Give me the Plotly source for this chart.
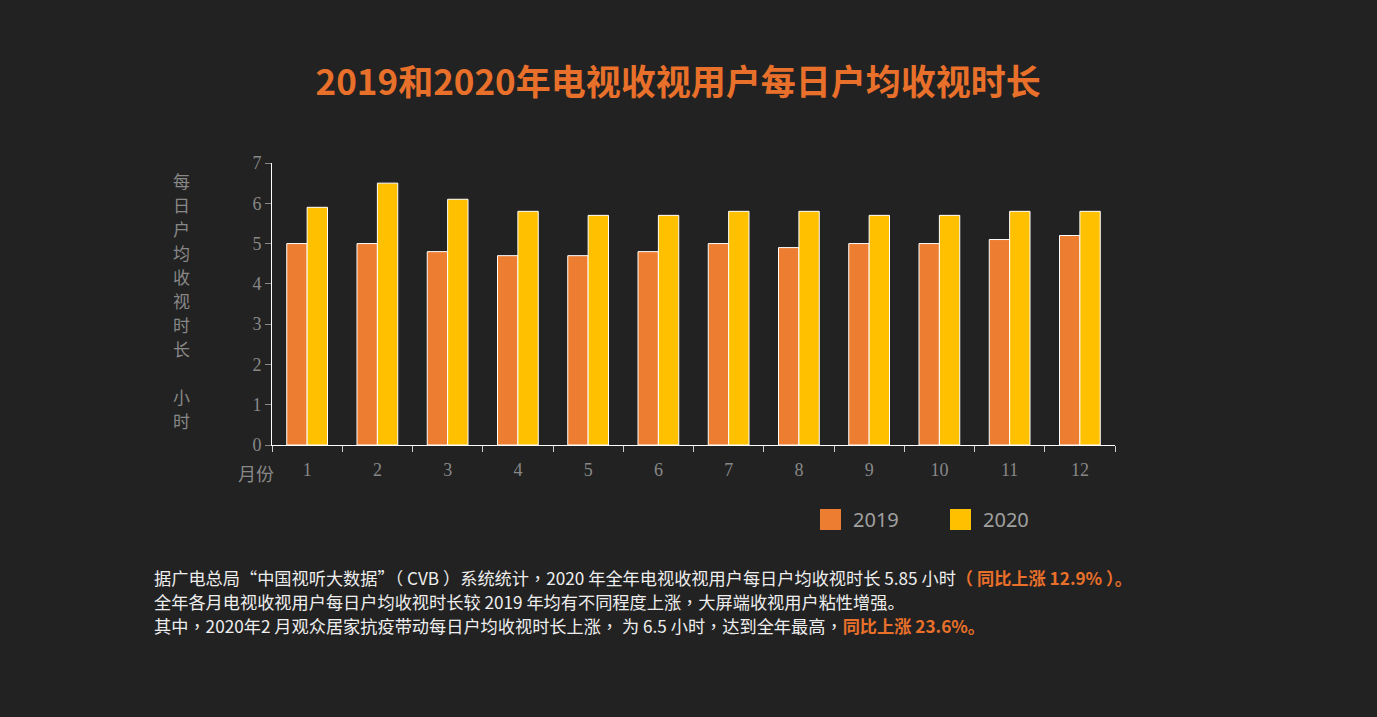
import plotly.graph_objects as go

months = ["1", "2", "3", "4", "5", "6", "7", "8", "9", "10", "11", "12"]
v2019 = [5.0, 5.0, 4.8, 4.7, 4.7, 4.8, 5.0, 4.9, 5.0, 5.0, 5.1, 5.2]
v2020 = [5.9, 6.5, 6.1, 5.8, 5.7, 5.7, 5.8, 5.8, 5.7, 5.7, 5.8, 5.8]
series_names = ["2019", "2020"]
y_ticks = [0, 1, 2, 3, 4, 5, 6, 7]

title_text = "2019和2020年电视收视用户每日户均收视时长"
y_title_chars = ["每", "日", "户", "均", "收", "视", "时", "长", "", "小", "时"]
x_title = "月份"

ORANGE = "#ED7D31"
GOLD = "#FFC000"
BG = "#222222"
ACC = "#E8702A"
CJK = "Noto Sans CJK SC"
SERIF = "Liberation Serif"
colors = [ORANGE, GOLD]

# plot area in pixels (used to convert layout positions to paper fractions)
L, R, T, B = 272, 1115, 163, 445
W, H = R - L, B - T
def px(x):
    return (x - L) / W
def py(y):
    return (B - y) / H

fig = go.Figure()
for name, vals, col in zip(series_names, [v2019, v2020], colors):
    fig.add_bar(x=months, y=vals, name=name, showlegend=False,
                marker=dict(color=col, line=dict(color="#ffffff", width=1)))

fig.update_layout(
    width=1377, height=717,
    paper_bgcolor=BG, plot_bgcolor=BG,
    margin=dict(l=L, r=1377 - R, t=T, b=717 - B, autoexpand=False),
    barmode="group", bargap=0.42, bargroupgap=0,
    title=dict(text="<b>" + title_text + "</b>", x=0.4925, xanchor="center", y=0.884, yanchor="middle",
               font=dict(family=CJK, size=35, color=ACC)),
    font=dict(family=SERIF, color="#888888"),
)

fig.update_xaxes(type="category", tickson="boundaries", ticks="outside", ticklen=6, tickcolor="#cccccc",
                 showline=True, linecolor="#ffffff", linewidth=1, showgrid=False, zeroline=False,
                 ticklabelstandoff=8,
                 tickfont=dict(family=SERIF, size=18, color="#888888"))
fig.update_yaxes(range=[0, 7], tickvals=y_ticks, ticks="outside", ticklen=6, tickcolor="#888888",
                 showline=True, linecolor="#ffffff", linewidth=1, showgrid=False, zeroline=False,
                 tickfont=dict(family=SERIF, size=18, color="#888888"))

# y-axis title as stacked characters
for i, c in enumerate(y_title_chars):
    if not c:
        continue
    fig.add_annotation(text=c, xref="paper", yref="paper", x=px(181), y=py(180 + 24 * i),
                       xanchor="center", yanchor="middle", showarrow=False,
                       font=dict(family=CJK, size=17, color="#888888"))
fig.add_annotation(text=x_title, xref="paper", yref="paper", x=px(276), y=py(473), xanchor="right", yanchor="middle",
                   showarrow=False, font=dict(family=CJK, size=18, color="#888888"))

# legend (drawn manually to match big square swatches)
leg_x = [820, 950]
for name, col, lx in zip(series_names, colors, leg_x):
    fig.add_shape(type="rect", xref="paper", yref="paper", x0=px(lx), x1=px(lx + 21), y0=py(530), y1=py(509),
                  fillcolor=col, line=dict(width=0))
    fig.add_annotation(text=name, xref="paper", yref="paper", x=px(lx + 31), y=py(519), xanchor="left",
                       yanchor="middle", showarrow=False,
                       font=dict(family="Noto Sans", size=20, color="#a0a0a0"))

TC = "<span style='font-family:Noto Sans CJK TC'>%s</span>"
def tc(s):
    for ch in "，（）":
        s = s.replace(ch, TC % ch)
    return s

para = [
    tc("据广电总局“中国视听大数据”（ CVB ）系统统计，2020 年全年电视收视用户每日户均收视时长 5.85 小时") + "<span style='color:%s'><b>%s</b></span>" % (ACC, tc("（ 同比上涨 12.9% ）。")),
    tc("全年各月电视收视用户每日户均收视时长较 2019 年均有不同程度上涨，大屏端收视用户粘性增强。"),
    tc("其中，2020年2 月观众居家抗疫带动每日户均收视时长上涨， 为 6.5 小时，达到全年最高，") + "<span style='color:%s'><b>%s</b></span>" % (ACC, "同比上涨 23.6%。"),
]
ys = [577, 601, 625]
for t, yy in zip(para, ys):
    fig.add_annotation(text=t, xref="paper", yref="paper", x=px(152), y=py(yy),
                       xanchor="left", yanchor="middle", showarrow=False, align="left",
                       font=dict(family=CJK, size=17.2, color="#eeeeee"))

fig.write_html("out.html", config={"displayModeBar": False},
               post_script="document.body.style.margin='0';document.body.style.background='%s';" % BG)
